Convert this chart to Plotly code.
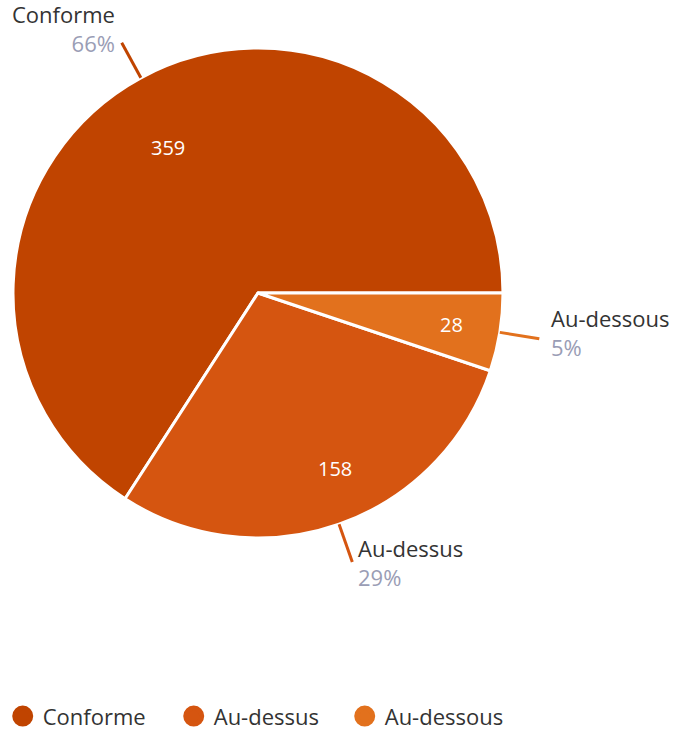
import math
import plotly.graph_objects as go

labels = ["Conforme", "Au-dessus", "Au-dessous"]
values = [359, 158, 28]
colors = ["#C04400", "#D55510", "#E2711D"]

W, H = 680, 730
CX, CY, R = 258, 293, 245  # pie center / radius in pixels
FONT = "Open Sans, sans-serif"
# small pixel nudges for text placement (layout styling)
VAL_NUDGE = [(-15, 11), (12, -9), (0, 0)]
LAB_NUDGE = [(-5, -14), (4, 1), (10, -6)]

total = sum(values)

fig = go.Figure()
fig.add_trace(go.Pie(
    labels=labels, values=values, sort=False, direction="counterclockwise",
    rotation=90 - 360 * values[0] / total,
    marker=dict(colors=colors, line=dict(color="white", width=3)),
    textinfo="none", hoverinfo="label+value+percent", showlegend=False,
    domain=dict(x=[(CX - R) / W, (CX + R) / W], y=[1 - (CY + R) / H, 1 - (CY - R) / H]),
))

# legend entries as circle markers
for lab, col in zip(labels, colors):
    fig.add_trace(go.Scatter(x=[None], y=[None], mode="markers", name=lab,
                             marker=dict(color=col, size=16, symbol="circle",
                                         line=dict(color=col, width=5))))

def px(x, y):
    return x / W, 1 - y / H

cum = 0
shapes, annots = [], []
for i, (lab, v, col) in enumerate(zip(labels, values, colors)):
    frac = v / total
    mid = (cum + frac / 2) * 2 * math.pi
    cum += frac
    c, s = math.cos(mid), math.sin(mid)
    # value inside
    vx, vy = px(CX + 0.8 * R * c + VAL_NUDGE[i][0], CY - 0.8 * R * s + VAL_NUDGE[i][1])
    annots.append(dict(x=vx, y=vy, xref="paper", yref="paper", text=str(v), showarrow=False,
                       font=dict(family=FONT, size=20, color="white")))
    # leader line
    x0, y0 = CX + R * c, CY - R * s
    x1, y1 = CX + (R + 40) * c, CY - (R + 40) * s
    a0, b0 = px(x0, y0)
    a1, b1 = px(x1, y1)
    shapes.append(dict(type="line", xref="paper", yref="paper", x0=a0, y0=b0, x1=a1, y1=b1,
                       line=dict(color=col, width=3)))
    right = c >= 0
    tx = x1 + LAB_NUDGE[i][0]
    ty = y1 + LAB_NUDGE[i][1]
    ax, ay = px(tx, ty)
    annots.append(dict(
        x=ax, y=ay, xref="paper", yref="paper", showarrow=False,
        xanchor="left" if right else "right", yanchor="middle",
        align="left" if right else "right",
        text=f"<span style='color:#333333'>{lab}</span><br><span style='color:#9A9DB5'>{round(frac*100)}%</span>",
        font=dict(family=FONT, size=22, color="#333333"),
    ))

fig.update_layout(
    width=W, height=H, margin=dict(l=0, r=0, t=0, b=0, autoexpand=False),
    paper_bgcolor="white", plot_bgcolor="white",
    xaxis=dict(visible=False), yaxis=dict(visible=False),
    shapes=shapes, annotations=annots,
    legend=dict(orientation="h", x=0.004, xanchor="left", y=-0.01, yanchor="bottom",
                font=dict(family=FONT, size=22, color="#333333"),
                itemsizing="trace", traceorder="normal",
                entrywidth=126, entrywidthmode="pixels"),
)
fig.write_html("out.html", config={"displayModeBar": False},
               post_script="document.body.style.margin='0';")
